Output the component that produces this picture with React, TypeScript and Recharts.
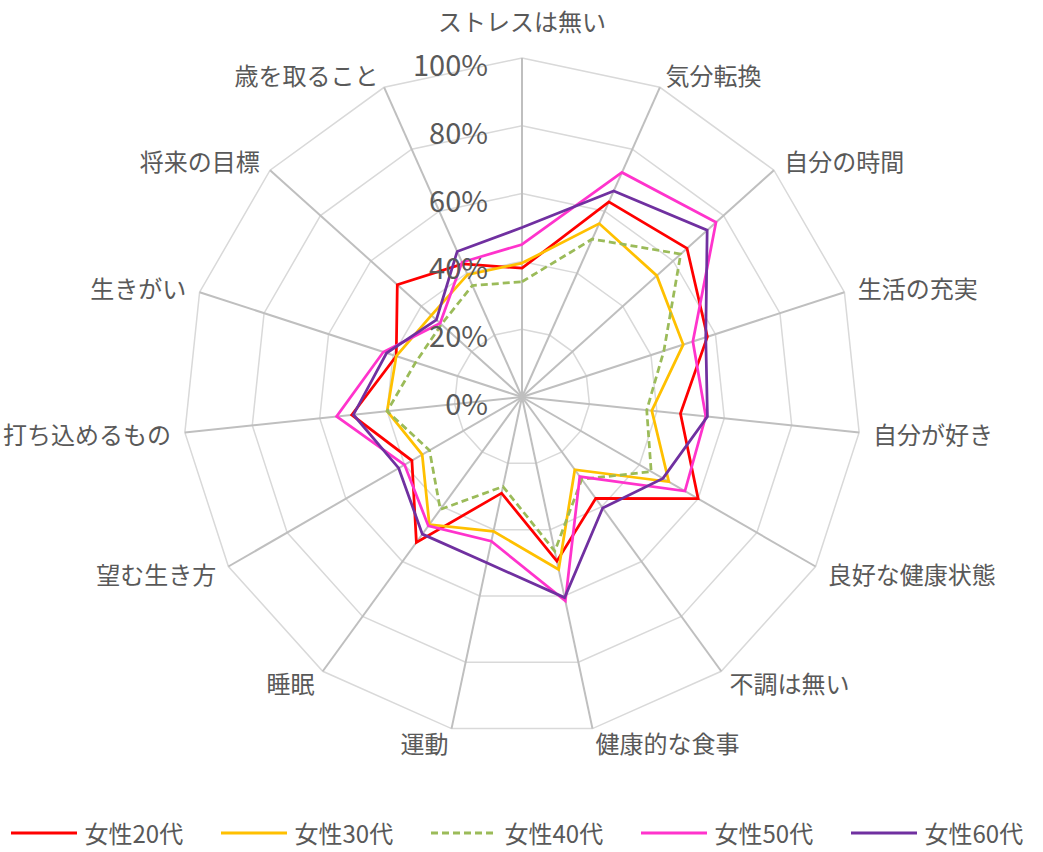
import React from "react";
import {
  RadarChart,
  Radar,
  PolarGrid,
  PolarAngleAxis,
  PolarRadiusAxis,
  Legend,
} from "recharts";

const categories = [
  "ストレスは無い",
  "気分転換",
  "自分の時間",
  "生活の充実",
  "自分が好き",
  "良好な健康状態",
  "不調は無い",
  "健康的な食事",
  "運動",
  "睡眠",
  "望む生き方",
  "打ち込めるもの",
  "生きがい",
  "将来の目標",
  "歳を取ること",
];

const female20 = [38, 63, 65.5, 57.5, 47, 60, 37, 49.5, 29, 53, 37.5, 50.5, 39, 49.5, 43];
const female30 = [39.5, 56, 53.5, 50, 38.5, 50, 26.5, 52, 40.5, 46.5, 34, 40, 39, 36, 39.5];
const female40 = [34, 51, 63, 44, 37, 44, 30, 46.5, 27, 41, 31.5, 40, 33, 32, 36];
const female50 = [45, 72.5, 77, 53, 54.5, 55.5, 29, 61.5, 43.5, 47, 40, 55, 43, 32.5, 43.5];
const female60 = [50, 66.5, 73.5, 57, 55, 48, 40.5, 60.5, 50, 50, 42, 50, 42, 34, 47];

const radiusTicks = [0, 20, 40, 60, 80, 100];

const series = [
  { key: "f20", name: "女性20代", color: "#FF0000", dash: undefined },
  { key: "f30", name: "女性30代", color: "#FFC000", dash: undefined },
  { key: "f40", name: "女性40代", color: "#9BBB59", dash: "7 4" },
  { key: "f50", name: "女性50代", color: "#FF33CC", dash: undefined },
  { key: "f60", name: "女性60代", color: "#7030A0", dash: undefined },
];

const data = categories.map((name, i) => ({
  name,
  f20: female20[i],
  f30: female30[i],
  f40: female40[i],
  f50: female50[i],
  f60: female60[i],
}));

const W = 1043;
const H = 852;
const CX = 522;
const CY = 397;
const R = 339;
const FONT = "'Noto Sans CJK JP', 'Noto Sans', sans-serif";
const TEXT = "#595959";

// category labels sit just outside the outer ring, like Excel does it
const AngleTick = (props: any) => {
  const { x, y, payload } = props;
  const dx = x - CX;
  const dy = y - CY;
  const len = Math.hypot(dx, dy) || 1;
  const ux = dx / len;
  const uy = dy / len;
  const d = R + 14;
  let tx = CX + ux * d;
  let ty = CY + uy * d;
  let anchor = ux > 0.05 ? "start" : ux < -0.05 ? "end" : "middle";
  if (anchor === "middle" && uy < 0) ty = CY - R - 38;
  return (
    <text
      x={tx}
      y={ty}
      textAnchor={anchor}
      dominantBaseline="central"
      fill={TEXT}
      fontSize={24}
      fontFamily={FONT}
    >
      {payload.value}
    </text>
  );
};

const RadiusTick = (props: any) => {
  const { y, payload } = props;
  return (
    <text
      x={CX - 34}
      y={y + 5}
      textAnchor="end"
      dominantBaseline="central"
      fill={TEXT}
      fontSize={29}
      fontFamily={FONT}
    >
      {payload.value}%
    </text>
  );
};

const renderLegend = () => (
  <div
    style={{
      display: "flex",
      justifyContent: "center",
      alignItems: "center",
      gap: 28,
      fontFamily: FONT,
      fontSize: 24,
      lineHeight: "24px",
      color: TEXT,
      whiteSpace: "nowrap",
    }}
  >
    {series.map((s) => (
      <div key={s.key} style={{ display: "flex", alignItems: "center" }}>
        <svg width={66} height={10} style={{ marginRight: 8 }}>
          <line
            x1={0}
            y1={5}
            x2={66}
            y2={5}
            stroke={s.color}
            strokeWidth={3}
            strokeDasharray={s.dash}
          />
        </svg>
        <span style={{ display: "inline-block", width: 108 }}>{s.name}</span>
      </div>
    ))}
  </div>
);

export default function App() {
  return (
    <div style={{ width: W, height: H, background: "#fff", position: "relative" }}>
      <style>{`body{margin:0}`}</style>
      <RadarChart
        width={W}
        height={H}
        data={data}
        cx={CX}
        cy={CY}
        outerRadius={R}
        margin={{ top: 0, right: 0, bottom: 0, left: 0 }}
      >
        <PolarGrid gridType="polygon" radialLines={false} stroke="#d9d9d9" strokeWidth={1.5} />
        <PolarGrid gridType="polygon" polarRadius={[]} stroke="#bfbfbf" strokeWidth={2} />
        <PolarAngleAxis
          dataKey="name"
          tick={<AngleTick />}
          tickLine={false}
          axisLine={false}
        />
        <PolarRadiusAxis
          angle={90}
          domain={[0, 100]}
          ticks={radiusTicks}
          tick={<RadiusTick />}
          tickLine={false}
          axisLine={false}
        />
        {series.map((s) => (
          <Radar
            key={s.key}
            name={s.name}
            dataKey={s.key}
            stroke={s.color}
            strokeWidth={2.75}
            strokeDasharray={s.dash}
            fill="none"
            fillOpacity={0}
            dot={false}
            isAnimationActive={false}
          />
        ))}
        <Legend
          content={renderLegend}
          wrapperStyle={{ position: "absolute", left: 0, top: 821, bottom: "auto", width: W, height: 24 }}
        />
      </RadarChart>
    </div>
  );
}
